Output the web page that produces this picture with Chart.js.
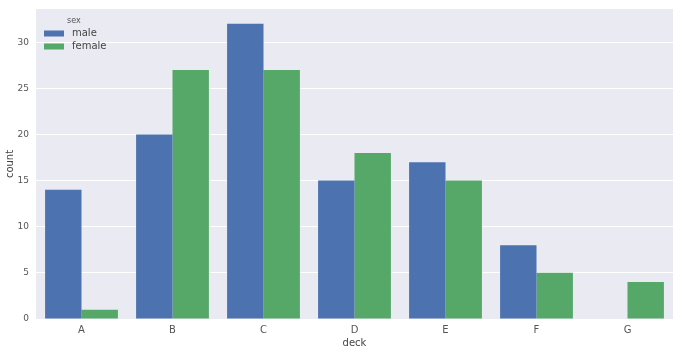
<!DOCTYPE html>
<html><head><meta charset="utf-8">
<script src="https://cdn.jsdelivr.net/npm/chart.js@4/dist/chart.umd.min.js"></script>
<style>html,body{margin:0;padding:0;background:#fff}#wrap{width:682px;height:356px}</style>
</head><body><div id="wrap"><canvas id="c" width="682" height="356"></canvas></div>
<script>
const categories = ['A','B','C','D','E','F','G'];
const maleCounts = [14,20,32,15,17,8,0];
const femaleCounts = [1,27,27,18,15,5,4];
const yTicks = [0,5,10,15,20,25,30];
const seriesNames = ['male','female'];
const legendTitle = 'sex';

const bgPlugin = {
  id:'bg',
  beforeDraw(chart){
    const {ctx, chartArea:a} = chart;
    ctx.save(); ctx.fillStyle='#EAEAF2';
    ctx.fillRect(a.left,a.top,a.right-a.left,a.bottom-a.top); ctx.restore();
  },
  afterDatasetsDraw(chart){
    const {ctx, chartArea:a} = chart;
    ctx.save();
    ctx.font='8px "DejaVu Sans"'; ctx.fillStyle='#555'; ctx.textBaseline='middle';
    ctx.fillText(legendTitle, a.left+31, a.top+12);
    chart.data.datasets.forEach((ds,i)=>{
      const y = a.top+24.5+i*13;
      ctx.fillStyle=ds.backgroundColor;
      ctx.fillRect(a.left+8,y-3,20,6);
      ctx.fillStyle='#444'; ctx.font='10px "DejaVu Sans"';
      ctx.fillText(ds.label, a.left+36, y);
    });
    ctx.restore();
  }
};

new Chart(document.getElementById('c'),{
  type:'bar',
  data:{labels:categories,datasets:[
    {label:seriesNames[0],data:maleCounts,backgroundColor:'#4C72B0',categoryPercentage:0.8,barPercentage:1},
    {label:seriesNames[1],data:femaleCounts,backgroundColor:'#55A868',categoryPercentage:0.8,barPercentage:1}
  ]},
  options:{
    responsive:false,animation:false,
    layout:{padding:{top:9,right:9,left:0,bottom:0}},
    plugins:{legend:{display:false},tooltip:{enabled:false}},
    scales:{
      x:{grid:{display:false,drawTicks:false},border:{display:false},
        ticks:{color:'#555',font:{family:'DejaVu Sans',size:10},padding:5},
        title:{display:true,text:'deck',color:'#444',font:{family:'DejaVu Sans',size:10},padding:{top:2,bottom:7}},
        afterFit(s){s.height=37;s.paddingLeft=0;s.paddingRight=0;}},
      y:{min:0,max:33.6,
        grid:{color:'#fff',lineWidth:1,drawTicks:false},border:{display:false},
        ticks:{color:'#555',font:{family:'DejaVu Sans',size:9},padding:7},
        afterBuildTicks(s){s.ticks=yTicks.map(v=>({value:v}));},
        title:{display:true,text:'count',color:'#444',font:{family:'DejaVu Sans',size:10},padding:{top:4,bottom:2}},
        afterFit(s){s.width=36;s.paddingTop=0;s.paddingBottom=0;}}
    }
  },
  plugins:[bgPlugin]
});
</script></body></html>
